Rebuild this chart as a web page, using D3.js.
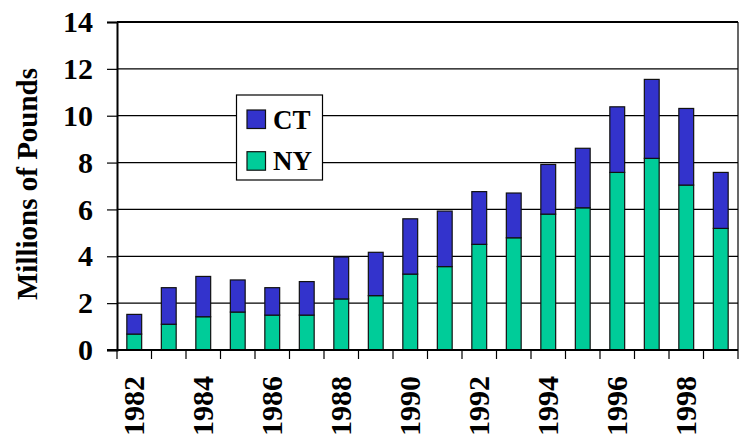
<!DOCTYPE html>
<html>
<head>
<meta charset="utf-8">
<script src="https://cdn.jsdelivr.net/npm/d3@7"></script>
<style>
  html, body { margin: 0; padding: 0; background: #fff; }
  svg { display: block; }
  text { font-family: "Liberation Serif", "Times New Roman", serif; font-weight: bold; fill: #000; }
</style>
</head>
<body>
<svg id="chart" width="739" height="439"></svg>
<script>
const years = [1982,1983,1984,1985,1986,1987,1988,1989,1990,1991,1992,1993,1994,1995,1996,1997,1998,1999];
const nyValues = [0.68,1.10,1.42,1.62,1.49,1.49,2.18,2.32,3.24,3.56,4.51,4.79,5.80,6.07,7.58,8.18,7.04,5.19];
const ctValues = [0.84,1.56,1.72,1.37,1.17,1.43,1.79,1.85,2.36,2.37,2.25,1.91,2.12,2.54,2.80,3.37,3.27,2.39];
const yTicks = [0,2,4,6,8,10,12,14];
const xLabelYears = [1982,1984,1986,1988,1990,1992,1994,1996,1998];
const seriesNames = ["NY","CT"];
const seriesColors = {NY: "#00CC99", CT: "#3333CC"};
const legendOrder = ["CT","NY"];

const svg = d3.select("#chart");
const mLeft = 117, mRight = 738, mTop = 22, mBottom = 350;

const x = d3.scaleBand().domain(years).range([mLeft, mRight]).paddingInner(0.57).paddingOuter(0.285);
const y = d3.scaleLinear().domain([0, 14]).range([mBottom, mTop]);

const rows = years.map((yr, i) => ({year: yr, NY: nyValues[i], CT: ctValues[i]}));
const stacked = d3.stack().keys(seriesNames)(rows);

// gridlines
svg.append("g").selectAll("line").data(yTicks.filter(d => d > 0)).join("line")
  .attr("x1", mLeft).attr("x2", mRight)
  .attr("y1", d => y(d)).attr("y2", d => y(d))
  .attr("stroke", "#000").attr("stroke-width", d => d === 14 ? 2 : 1.2);

// right border
svg.append("line").attr("x1", mRight).attr("x2", mRight).attr("y1", mTop).attr("y2", mBottom)
  .attr("stroke", "#000").attr("stroke-width", 1.2);

// bars
svg.append("g").selectAll("g").data(stacked).join("g")
  .attr("fill", d => seriesColors[d.key])
  .selectAll("rect").data(d => d).join("rect")
  .attr("x", d => x(d.data.year))
  .attr("width", x.bandwidth())
  .attr("y", d => y(d[1]))
  .attr("height", d => y(d[0]) - y(d[1]))
  .attr("stroke", "#111").attr("stroke-width", 1.2);

// y axis
const yAxis = svg.append("g").attr("transform", `translate(${mLeft},0)`)
  .call(d3.axisLeft(y).tickValues(yTicks).tickSize(10).tickPadding(14));
yAxis.select(".domain").attr("stroke", "#000").attr("stroke-width", 2);
yAxis.selectAll(".tick line").attr("stroke", "#000").attr("stroke-width", 1.2);
yAxis.selectAll(".tick text").attr("font-size", 30).attr("font-family", "Liberation Serif, serif").attr("font-weight", "bold").attr("fill", "#000");

// x axis line + ticks at band boundaries
svg.append("line").attr("x1", mLeft - 10).attr("x2", mRight).attr("y1", mBottom).attr("y2", mBottom)
  .attr("stroke", "#000").attr("stroke-width", 2);
const step = x.step();
svg.append("g").selectAll("line").data(d3.range(years.length + 1)).join("line")
  .attr("x1", i => mLeft + i * step).attr("x2", i => mLeft + i * step)
  .attr("y1", mBottom).attr("y2", mBottom + 9)
  .attr("stroke", "#000").attr("stroke-width", 1.2);

// x labels
svg.append("g").selectAll("text").data(xLabelYears).join("text")
  .attr("transform", d => `translate(${x(d) + x.bandwidth() / 2 - 1},376) rotate(-90)`)
  .attr("text-anchor", "end")
  .attr("dy", "0.35em")
  .attr("font-size", 30)
  .text(d => d);

// y title
svg.append("text")
  .attr("transform", "translate(27,184) rotate(-90)")
  .attr("text-anchor", "middle")
  .attr("dy", "0.35em")
  .attr("font-size", 29)
  .text("Millions of Pounds");

// legend
const lg = svg.append("g");
lg.append("rect").attr("x", 236.5).attr("y", 95).attr("width", 86).attr("height", 85)
  .attr("fill", "#fff").attr("stroke", "#000").attr("stroke-width", 1.2);
legendOrder.forEach((k, i) => {
  const yy = 110 + i * 41.7;
  lg.append("rect").attr("x", 247).attr("y", yy).attr("width", 18.5).attr("height", 18.5)
    .attr("fill", seriesColors[k]).attr("stroke", "#111").attr("stroke-width", 1.2);
  lg.append("text").attr("x", 273).attr("y", yy + 18.5).attr("font-size", 27).text(k);
});
</script>
</body>
</html>
